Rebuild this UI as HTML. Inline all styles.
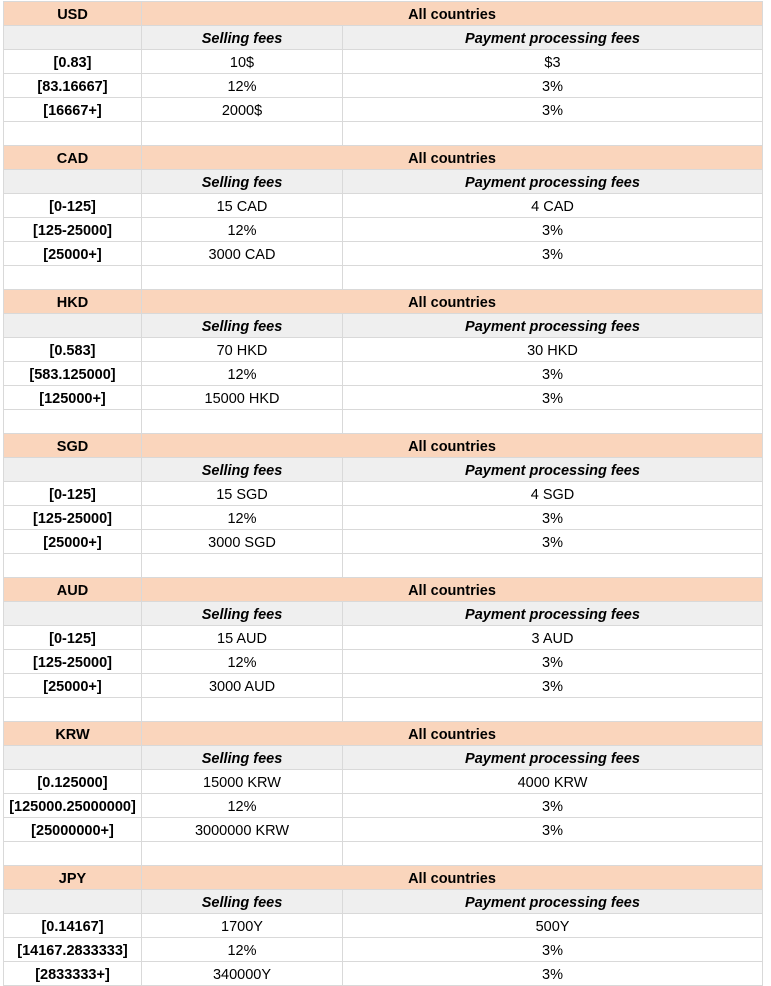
<!DOCTYPE html>
<html><head><style>
body{margin:0;background:#fff;width:771px;height:985px;overflow:hidden;font-family:"Liberation Sans",Arial,sans-serif;font-size:14.5px;color:#000}
table{position:absolute;left:3px;top:1px;border-collapse:collapse;table-layout:fixed}
td{border:1px solid #d9d9d9;height:23px;padding:0;text-align:center;line-height:23px;box-sizing:border-box;white-space:nowrap;overflow:visible}
td span{position:relative;top:2px}
tr{height:24px}
.h td{background:#fad5bc;font-weight:bold}
.s td{background:#efefef;font-weight:bold;font-style:italic}
.b{font-weight:bold}
</style></head><body>
<table>
<colgroup><col style="width:138px"><col style="width:201px"><col style="width:420px"></colgroup>
<tr class="h"><td><span>USD</span></td><td colspan="2"><span>All countries</span></td></tr>
<tr class="s"><td></td><td><span>Selling fees</span></td><td><span>Payment processing fees</span></td></tr>
<tr><td class="b"><span>[0.83]</span></td><td><span>10$</span></td><td><span>$3</span></td></tr>
<tr><td class="b"><span>[83.16667]</span></td><td><span>12%</span></td><td><span>3%</span></td></tr>
<tr><td class="b"><span>[16667+]</span></td><td><span>2000$</span></td><td><span>3%</span></td></tr>
<tr><td></td><td></td><td></td></tr>
<tr class="h"><td><span>CAD</span></td><td colspan="2"><span>All countries</span></td></tr>
<tr class="s"><td></td><td><span>Selling fees</span></td><td><span>Payment processing fees</span></td></tr>
<tr><td class="b"><span>[0-125]</span></td><td><span>15 CAD</span></td><td><span>4 CAD</span></td></tr>
<tr><td class="b"><span>[125-25000]</span></td><td><span>12%</span></td><td><span>3%</span></td></tr>
<tr><td class="b"><span>[25000+]</span></td><td><span>3000 CAD</span></td><td><span>3%</span></td></tr>
<tr><td></td><td></td><td></td></tr>
<tr class="h"><td><span>HKD</span></td><td colspan="2"><span>All countries</span></td></tr>
<tr class="s"><td></td><td><span>Selling fees</span></td><td><span>Payment processing fees</span></td></tr>
<tr><td class="b"><span>[0.583]</span></td><td><span>70 HKD</span></td><td><span>30 HKD</span></td></tr>
<tr><td class="b"><span>[583.125000]</span></td><td><span>12%</span></td><td><span>3%</span></td></tr>
<tr><td class="b"><span>[125000+]</span></td><td><span>15000 HKD</span></td><td><span>3%</span></td></tr>
<tr><td></td><td></td><td></td></tr>
<tr class="h"><td><span>SGD</span></td><td colspan="2"><span>All countries</span></td></tr>
<tr class="s"><td></td><td><span>Selling fees</span></td><td><span>Payment processing fees</span></td></tr>
<tr><td class="b"><span>[0-125]</span></td><td><span>15 SGD</span></td><td><span>4 SGD</span></td></tr>
<tr><td class="b"><span>[125-25000]</span></td><td><span>12%</span></td><td><span>3%</span></td></tr>
<tr><td class="b"><span>[25000+]</span></td><td><span>3000 SGD</span></td><td><span>3%</span></td></tr>
<tr><td></td><td></td><td></td></tr>
<tr class="h"><td><span>AUD</span></td><td colspan="2"><span>All countries</span></td></tr>
<tr class="s"><td></td><td><span>Selling fees</span></td><td><span>Payment processing fees</span></td></tr>
<tr><td class="b"><span>[0-125]</span></td><td><span>15 AUD</span></td><td><span>3 AUD</span></td></tr>
<tr><td class="b"><span>[125-25000]</span></td><td><span>12%</span></td><td><span>3%</span></td></tr>
<tr><td class="b"><span>[25000+]</span></td><td><span>3000 AUD</span></td><td><span>3%</span></td></tr>
<tr><td></td><td></td><td></td></tr>
<tr class="h"><td><span>KRW</span></td><td colspan="2"><span>All countries</span></td></tr>
<tr class="s"><td></td><td><span>Selling fees</span></td><td><span>Payment processing fees</span></td></tr>
<tr><td class="b"><span>[0.125000]</span></td><td><span>15000 KRW</span></td><td><span>4000 KRW</span></td></tr>
<tr><td class="b"><span>[125000.25000000]</span></td><td><span>12%</span></td><td><span>3%</span></td></tr>
<tr><td class="b"><span>[25000000+]</span></td><td><span>3000000 KRW</span></td><td><span>3%</span></td></tr>
<tr><td></td><td></td><td></td></tr>
<tr class="h"><td><span>JPY</span></td><td colspan="2"><span>All countries</span></td></tr>
<tr class="s"><td></td><td><span>Selling fees</span></td><td><span>Payment processing fees</span></td></tr>
<tr><td class="b"><span>[0.14167]</span></td><td><span>1700Y</span></td><td><span>500Y</span></td></tr>
<tr><td class="b"><span>[14167.2833333]</span></td><td><span>12%</span></td><td><span>3%</span></td></tr>
<tr><td class="b"><span>[2833333+]</span></td><td><span>340000Y</span></td><td><span>3%</span></td></tr>
</table>
</body></html>
